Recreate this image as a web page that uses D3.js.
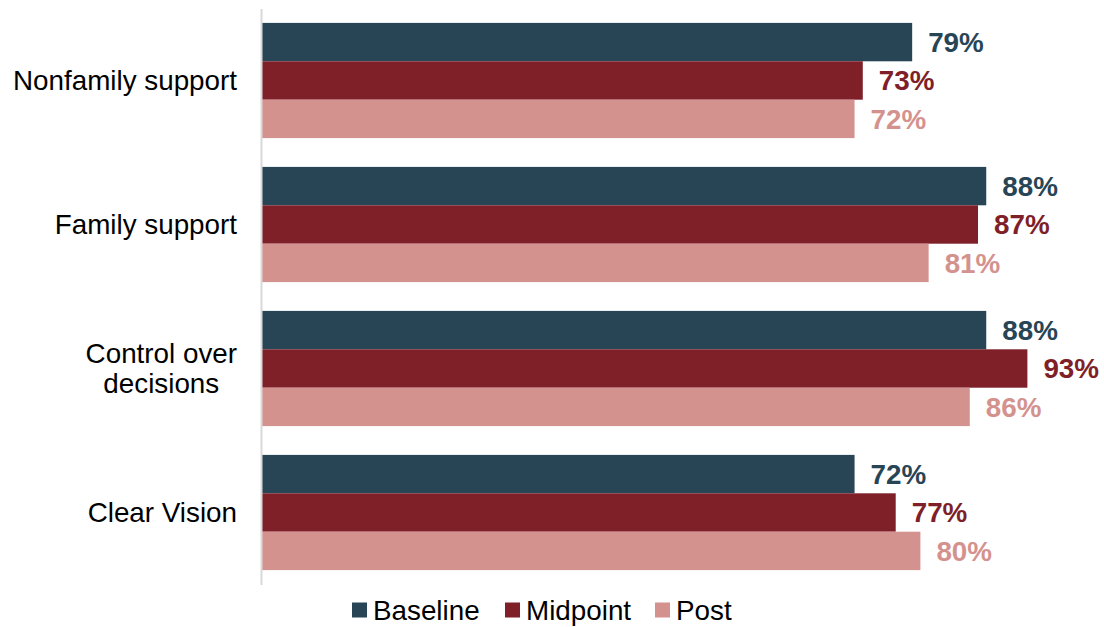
<!DOCTYPE html>
<html>
<head>
<meta charset="utf-8">
<script src="https://cdn.jsdelivr.net/npm/d3@7"></script>
<style>
  body { margin: 0; background: #fff; }
  text { font-family: "Liberation Sans", Arial, sans-serif; }
</style>
</head>
<body>
<svg id="chart" width="1104" height="627"></svg>
<script>
var categories = ['Nonfamily support', 'Family support', 'Control over decisions', 'Clear Vision'];
var categoryLines = [['Nonfamily support'], ['Family support'], ['Control over', 'decisions'], ['Clear Vision']];
var seriesNames = ['Baseline', 'Midpoint', 'Post'];
var baseline = [0.79, 0.88, 0.88, 0.72];
var midpoint = [0.73, 0.87, 0.93, 0.77];
var post = [0.72, 0.81, 0.86, 0.80];
var colors = ['#284556', '#7f1f28', '#d4928f'];

var seriesValues = [baseline, midpoint, post];

var svg = d3.select('#chart');
var fontSize = 27.8;

var x = d3.scaleLinear()
  .domain([0, 1])
  .range([262, 1085]);

var y = d3.scaleBand()
  .domain(categories)
  .range([8.5, 584.5])
  .paddingInner(0.2)
  .paddingOuter(0.1);

var ySub = d3.scaleBand()
  .domain(seriesNames)
  .range([0, y.bandwidth()]);

var rows = [];
categories.forEach(function(c, i) {
  seriesNames.forEach(function(s, j) {
    rows.push({ category: c, series: s, value: seriesValues[j][i], color: colors[j] });
  });
});

// bars
svg.append('g').selectAll('rect')
  .data(rows)
  .enter()
  .append('rect')
  .attr('x', x(0))
  .attr('y', function(d) { return y(d.category) + ySub(d.series); })
  .attr('width', function(d) { return x(d.value) - x(0); })
  .attr('height', ySub.bandwidth())
  .attr('fill', function(d) { return d.color; });

// value labels
svg.append('g').selectAll('text')
  .data(rows)
  .enter()
  .append('text')
  .attr('x', function(d) { return x(d.value) + 16; })
  .attr('y', function(d) { return y(d.category) + ySub(d.series) + ySub.bandwidth() / 2; })
  .attr('dy', '0.35em')
  .attr('font-size', fontSize)
  .attr('font-weight', 'bold')
  .attr('fill', function(d) { return d.color; })
  .text(function(d) { return Math.round(d.value * 100) + '%'; });

// vertical axis line
var axis = svg.append('g')
  .attr('transform', 'translate(' + (x(0) - 1) + ',0)')
  .call(d3.axisLeft(y).tickSize(0).tickFormat(''));
axis.select('.domain').attr('stroke', '#d9d9d9').attr('stroke-width', 2);

// category labels: block right-aligned at 237, lines centred within the block
var labelRight = 237;
var catLabels = svg.append('g').selectAll('text')
  .data(categories)
  .enter()
  .append('text')
  .attr('text-anchor', 'middle')
  .attr('font-size', fontSize)
  .attr('fill', '#000');

catLabels.each(function(d, i) {
  var lines = categoryLines[i];
  var lh = 30;
  var t = d3.select(this);
  var cy = y(d) + y.bandwidth() / 2;
  var spans = lines.map(function(line, k) {
    return t.append('tspan')
      .attr('y', cy + (k - (lines.length - 1) / 2) * lh)
      .attr('dy', '0.35em')
      .text(line);
  });
  var maxW = d3.max(spans, function(s) { return s.node().getComputedTextLength(); });
  spans.forEach(function(s) { s.attr('x', labelRight - maxW / 2); });
});

// legend
var legendX = [352, 505, 655];
var legend = svg.append('g').selectAll('g')
  .data(seriesNames)
  .enter()
  .append('g')
  .attr('transform', function(d, i) { return 'translate(' + legendX[i] + ',610)'; });

legend.append('rect')
  .attr('x', 0)
  .attr('y', -7.5)
  .attr('width', 15)
  .attr('height', 15)
  .attr('fill', function(d, i) { return colors[i]; });

legend.append('text')
  .attr('x', 21)
  .attr('dy', '0.35em')
  .attr('font-size', fontSize)
  .attr('fill', '#000')
  .text(function(d) { return d; });
</script>
</body>
</html>
